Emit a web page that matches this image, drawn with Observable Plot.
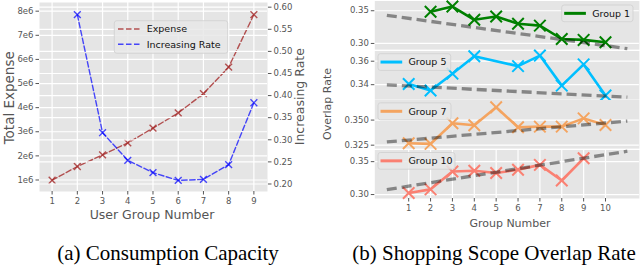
<!DOCTYPE html>
<html><head><meta charset="utf-8">
<script src="https://cdn.jsdelivr.net/npm/d3@7"></script>
<script src="https://cdn.jsdelivr.net/npm/@observablehq/plot@0.6"></script>
<style>
html,body{margin:0;padding:0;background:#fff;}
#root{position:relative;width:640px;height:265px;overflow:hidden;font-family:"DejaVu Sans";}
#root svg{position:absolute;overflow:visible;}
.cap{position:absolute;font-family:"Liberation Serif";font-size:21px;line-height:21px;color:#000;white-space:nowrap;transform:translateX(-50%);}
</style></head><body><div id="root"></div>
<script>
// ---------- data: panel (a) ----------
const userGroups = [1,2,3,4,5,6,7,8,9];
const expense = [0.99e6,1.56e6,2.04e6,2.54e6,3.15e6,3.78e6,4.58e6,5.68e6,7.86e6];
const rateGroups = [2,3,4,5,6,7,8,9];
const increasingRate = [0.583,0.316,0.2535,0.2256,0.208,0.2105,0.2437,0.3838];
const expenseTicks = [1e6,2e6,3e6,4e6,5e6,6e6,7e6,8e6];
const rateTicks = [0.20,0.25,0.30,0.35,0.40,0.45,0.50,0.55,0.60];
const legendA = ["Expense","Increasing Rate"];

// ---------- data: panel (b) ----------
const groupNumbers = [1,2,3,4,5,6,7,8,9,10];
const group1X = [2,3,4,5,6,7,8,9,10];
const group1 = [0.3485,0.3564,0.3362,0.3411,0.3302,0.3272,0.3068,0.3054,0.3019];
const group5X = [1,2,3,4,6,7,8,9,10];
const group5 = [0.3406,0.3350,0.3494,0.3642,0.3558,0.3648,0.3392,0.3573,0.3308];
const group7X = [1,2,3,4,5,6,7,8,9,10];
const group7 = [0.3269,0.3263,0.3468,0.3448,0.3627,0.3429,0.3435,0.3435,0.3517,0.3451];
const group10X = [1,2,3,4,5,6,7,8,9];
const group10 = [0.3024,0.3079,0.3351,0.3362,0.3327,0.3377,0.3451,0.3213,0.3551];
const trendX = [0, 11];
const trend1 = [0.343, 0.292];
const trend5 = [0.3398, 0.3294];
const trend7 = [0.3282, 0.349];
const trend10 = [0.3074, 0.3659];
const groupLabels = ["Group 1","Group 5","Group 7","Group 10"];
const groupColors = ["#008000","#00BFFF","#F4A460","#FA8072"];
const ticks1 = [0.30,0.35], ticks5 = [0.34,0.36], ticks7 = [0.325,0.350], ticks10 = [0.30,0.35];

const root = document.getElementById("root");
const BG = "#E5E5E5";
const baseStyle = {fontFamily:"DejaVu Sans", fontSize:"8.5px", color:"#555", background:"transparent", overflow:"visible"};
function place(svg, left, top){ svg.style.left = left+"px"; svg.style.top = top+"px"; root.appendChild(svg); }
function legendBox(svg, box, items){
  const g = d3.select(svg).append("g");
  g.append("rect").attr("x",box[0]).attr("y",box[1]).attr("width",box[2]).attr("height",box[3])
    .attr("rx",2.5).attr("fill","#E8E8E8").attr("fill-opacity",0.85).attr("stroke","#cfcfcf").attr("stroke-width",0.8);
  items.forEach(it=>{
    g.append("line").attr("x1",it.x1).attr("x2",it.x2).attr("y1",it.y).attr("y2",it.y)
      .attr("stroke",it.color).attr("stroke-opacity",it.opacity ?? 1).attr("stroke-width",it.w)
      .attr("stroke-dasharray",it.dash || null);
    g.append("text").attr("x",it.tx).attr("y",it.y).attr("dy","0.35em").attr("font-size",9.5)
      .attr("text-anchor","start")
      .attr("font-family","DejaVu Sans").attr("fill","#111").text(it.label);
  });
}

// ---------- panel (a): expense ----------
const expRows = userGroups.map((g,i)=>({g, v:expense[i]}));
const rateRows = rateGroups.map((g,i)=>({g, v:increasingRate[i]}));
const LM = {width:320, height:230, marginLeft:39, marginRight:53, marginTop:2, marginBottom:39};
const leftXDomain = [0.5, 9.54];
const gridStyle = {stroke:"#fff", strokeOpacity:1, strokeWidth:1.2};
const pA1 = Plot.plot({...LM, style:baseStyle,
  x:{domain:leftXDomain, axis:null}, y:{domain:[0.523e6, 8.36e6], axis:null},
  marks:[
    Plot.frame({fill:BG, stroke:"none"}),
    Plot.gridX(userGroups, gridStyle),
    Plot.gridY(expenseTicks, gridStyle),
    Plot.axisX(userGroups,{tickSize:3.5, tickPadding:3, fontSize:8.5, label:null, tickFormat:d=>String(d)}),
    Plot.axisY(expenseTicks,{tickSize:3.5, tickPadding:2.5, fontSize:8.5, label:null, tickFormat:d=>`${Math.round(d/1e6)}e6`}),
    Plot.line(expRows,{x:"g", y:"v", stroke:"#A52A2A", strokeOpacity:0.8, strokeWidth:1.4, strokeDasharray:"5.5,2.5"}),
    Plot.dot(expRows,{x:"g", y:"v", symbol:"times", r:3.2, stroke:"#A52A2A", strokeOpacity:0.8, strokeWidth:1.4, fill:"none"})
  ]});
place(pA1, 0, 0);
const pA2 = Plot.plot({...LM, style:baseStyle,
  x:{domain:leftXDomain, axis:null}, y:{domain:[0.183, 0.6106], axis:null},
  marks:[
    Plot.gridY(rateTicks, gridStyle),
    Plot.axisY(rateTicks,{anchor:"right", tickSize:3.5, tickPadding:2.5, fontSize:8.5, label:null, tickFormat:d3.format(".2f")}),
    Plot.line(rateRows,{x:"g", y:"v", stroke:"blue", strokeOpacity:0.7, strokeWidth:1.4, strokeDasharray:"5.5,2.5"}),
    Plot.dot(rateRows,{x:"g", y:"v", symbol:"times", r:3.2, stroke:"blue", strokeOpacity:0.7, strokeWidth:1.4, fill:"none"})
  ]});
place(pA2, 0, 0);
legendBox(pA2, [114.3, 20.7, 113.4, 32.6], [
  {x1:118, x2:140, y:29, tx:146.7, label:legendA[0], color:"#A52A2A", opacity:0.8, w:1.4, dash:"5.5,2.5"},
  {x1:118, x2:140, y:44.3, tx:146.7, label:legendA[1], color:"blue", opacity:0.7, w:1.4, dash:"5.5,2.5"}
]);

// ---------- panel (b): four stacked subplots ----------
const RX = {domain:[-0.55, 11.55]};
const subs = [
  {top:0,    h:49.6, dom:[0.2906,0.3649], ticks:ticks1,  fmt:".2f", xs:group1X,  ys:group1,  tr:trend1,  box:[561.7,5,71.3,16.7]},
  {top:49.6, h:49.6, dom:[0.3273,0.3687], ticks:ticks5,  fmt:".2f", xs:group5X,  ys:group5,  tr:trend5,  box:[378,53.3,72.7,16.7]},
  {top:99.2, h:49.6, dom:[0.3216,0.3700], ticks:ticks7,  fmt:".3f", xs:group7X,  ys:group7,  tr:trend7,  box:[378,103,73,17]},
  {top:148.8,h:49.5, dom:[0.2940,0.3677], ticks:ticks10, fmt:".2f", xs:group10X, ys:group10, tr:trend10, box:[378,152.3,77,16.7]}
];
subs.forEach((s,k)=>{
  const bottom = k===3;
  const rows = s.xs.map((x,i)=>({x, y:s.ys[i]}));
  const trows = trendX.map((x,i)=>({x, y:s.tr[i]}));
  const color = groupColors[k];
  const marks = [
    Plot.frame({fill:BG, stroke:"none"}),
    Plot.gridY(s.ticks, gridStyle),
    Plot.axisY(s.ticks,{tickSize:3.5, tickPadding:2.5, fontSize:8.5, label:null, tickFormat:d3.format(s.fmt)}),
  ];
  if (bottom) {
    marks.splice(1,0,Plot.gridX(groupNumbers, gridStyle));
    marks.push(Plot.axisX(groupNumbers,{tickSize:3.5, tickPadding:3, fontSize:8.5, label:null, tickFormat:d=>String(d)}));
  }
  marks.push(
    Plot.line(rows,{x:"x", y:"y", stroke:color, strokeWidth:2.6}),
    Plot.dot(rows,{x:"x", y:"y", symbol:"times", r:5.3, stroke:color, strokeWidth:2, fill:"none"}),
    Plot.line(trows,{x:"x", y:"y", stroke:"black", strokeOpacity:0.42, strokeWidth:3.3, strokeDasharray:"10,5", strokeLinecap:"butt"})
  );
  const svg = Plot.plot({width:320, height: s.h + (bottom ? 22 : 0),
    marginLeft:54.3, marginRight:1.1, marginTop:0.5, marginBottom: bottom ? 22.5 : 0.5,
    style:baseStyle, x:{...RX, axis:null}, y:{domain:s.dom, axis:null}, marks});
  place(svg, 320, s.top);
  const b = s.box;
  const lx = b[0]+2.5;
  legendBox(svg, [b[0]-320, b[1]-s.top, b[2], b[3]], [
    {x1:lx-320, x2:lx+21.7-320, y:b[1]+b[3]/2-s.top, tx:lx+28-320, label:groupLabels[k], color, w:3}
  ]);
});

// ---------- axis titles ----------
const ov = d3.create("svg").attr("width",640).attr("height",265).style("left","0px").style("top","0px");
const titles = [
  {t:"Total Expense", x:9, y:97.8, r:true, fs:13.5},
  {t:"Increasing Rate", x:300, y:96.7, r:true, fs:12.5},
  {t:"User Group Number", x:152, y:215, r:false, fs:12.5},
  {t:"Overlap Rate", x:327, y:104, r:true, fs:11},
  {t:"Group Number", x:510, y:223, r:false, fs:11}
];
titles.forEach(d=>{
  ov.append("text").attr("transform",`translate(${d.x},${d.y})${d.r?" rotate(-90)":""}`)
    .attr("text-anchor","middle").attr("dy","0.35em").attr("font-family","DejaVu Sans")
    .attr("font-size",d.fs).attr("fill","#555").text(d.t);
});
root.appendChild(ov.node());

// ---------- captions ----------
[["(a) Consumption Capacity",168],["(b) Shopping Scope Overlap Rate",494]].forEach(([t,x])=>{
  const d = document.createElement("div"); d.className="cap"; d.textContent=t;
  d.style.left = x+"px"; d.style.top = "243px"; root.appendChild(d);
});
</script></body></html>
